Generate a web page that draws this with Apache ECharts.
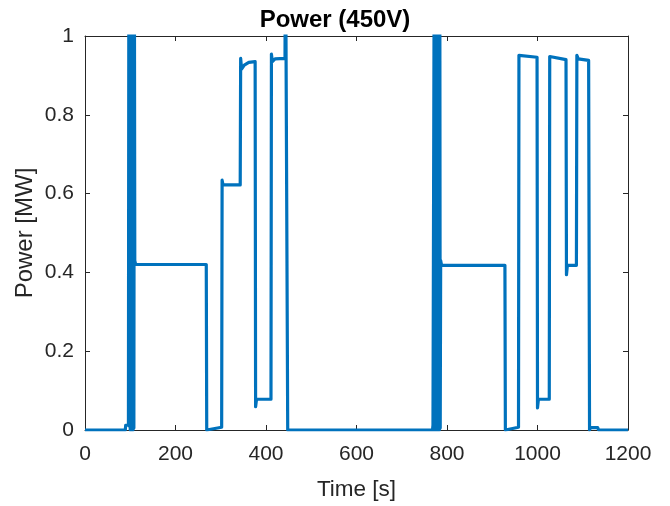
<!DOCTYPE html>
<html>
<head>
<meta charset="utf-8">
<script src="https://cdn.jsdelivr.net/npm/echarts@6/dist/echarts.min.js"></script>
<style>html,body{margin:0;padding:0;background:#fff}#c{width:670px;height:506px}</style>
</head>
<body>
<div id="c"></div>
<script>
var titleText = 'Power (450V)';
var xLabel = 'Time [s]';
var yLabel = 'Power [MW]';
var xTicks = [0, 200, 400, 600, 800, 1000, 1200];
var yTicks = [0, 0.2, 0.4, 0.6, 0.8, 1];

var timeS = [
  0, 89, 90, 96, 97, 98, 99, 100, 101, 102, 103, 104, 105, 106, 107, 108, 109, 110, 112,
  268, 269, 270, 302, 303, 305, 343, 344, 346, 352, 362, 376,
  377, 379, 411, 412, 414, 420, 442, 443, 447, 448, 450,
  768, 769, 771, 772, 773, 774, 775, 776, 777, 778, 779, 780, 781, 782, 783, 784, 785, 786, 788,
  928, 929, 930, 958, 959, 962, 999, 1000, 1002, 1026, 1027, 1030, 1063,
  1064, 1066, 1086, 1087, 1090, 1113, 1115, 1117, 1133, 1135, 1200
];
var powerMW = [
  0, 0, 0.012, 0.012, 1.3, 0.01, 1.3, 0.0, 1.3, 0.0, 1.3, 0.0, 1.3, 0.0, 1.3, 0.005, 1.3, 0.43, 0.42,
  0.42, 0.0, 0.002, 0.007, 0.634, 0.622, 0.622, 0.943, 0.916, 0.926, 0.933, 0.935,
  0.059, 0.078, 0.078, 0.954, 0.935, 0.942, 0.943, 1.3, 1.3, 0.0, 0,
  0, 0.012, 0.012, 1.3, 0.0, 1.3, 0.0, 1.3, 0.0, 1.3, 0.0, 1.3, 0.0, 1.3, 0.0, 1.3, 0.005, 0.43, 0.418,
  0.418, 0.0, 0.003, 0.007, 0.951, 0.946, 0.946, 0.056, 0.078, 0.078, 0.948, 0.945, 0.94,
  0.394, 0.418, 0.418, 0.951, 0.942, 0.938, 0.0, 0.006, 0.006, 0, 0
];

var seriesData = timeS.map(function (t, i) { return [t, powerMW[i]]; });

var FONT = 'Liberation Sans';
var AX = '#262626';
var chart = echarts.init(document.getElementById('c'), null, { renderer: 'canvas' });

function xAx(pos, show) {
  return {
    type: 'value', position: pos, min: 0, max: 1200, interval: 200,
    axisLine: { show: true, onZero: false, lineStyle: { color: AX, width: 1 } },
    axisTick: { show: true, inside: true, length: 5, lineStyle: { color: AX } },
    axisLabel: { show: show, color: AX, fontFamily: FONT, fontSize: 21, margin: 14,
      formatter: function (v) { return xTicks.indexOf(v) >= 0 ? String(v) : ''; } },
    splitLine: { show: false },
    name: show ? xLabel : '', nameLocation: 'middle', nameGap: 48,
    nameTextStyle: { color: AX, fontFamily: FONT, fontSize: 22.5 }
  };
}
function yAx(pos, show) {
  return {
    type: 'value', position: pos, min: 0, max: 1, interval: 0.2,
    axisLine: { show: true, onZero: false, lineStyle: { color: AX, width: 1 } },
    axisTick: { show: true, inside: true, length: 5, lineStyle: { color: AX } },
    axisLabel: { show: show, color: AX, fontFamily: FONT, fontSize: 21, margin: 11,
      formatter: function (v) {
        var r = Math.round(v * 10) / 10;
        for (var i = 0; i < yTicks.length; i++) { if (Math.abs(yTicks[i] - r) < 1e-9) return String(yTicks[i]); }
        return '';
      } },
    splitLine: { show: false },
    name: show ? yLabel : '', nameLocation: 'middle', nameGap: 48, nameMoveOverlap: false,
    nameTextStyle: { color: AX, fontFamily: FONT, fontSize: 24 }
  };
}

chart.setOption({
  animation: false,
  backgroundColor: '#ffffff',
  title: {
    text: titleText, left: 'center', top: 3,
    textStyle: { color: '#000', fontFamily: FONT, fontSize: 24, fontWeight: 'bold' }
  },
  grid: { left: 85, right: 42, top: 36, bottom: 75, containLabel: false },
  xAxis: [xAx('bottom', true), xAx('top', false)],
  yAxis: [yAx('left', true), yAx('right', false)],
  series: [{
    type: 'line', xAxisIndex: 0, yAxisIndex: 0,
    data: seriesData, showSymbol: false, symbol: 'none', clip: true,
    lineStyle: { color: '#0072BD', width: 3.2, join: 'round' },
    itemStyle: { color: '#0072BD' }
  }]
});
</script>
</body>
</html>
